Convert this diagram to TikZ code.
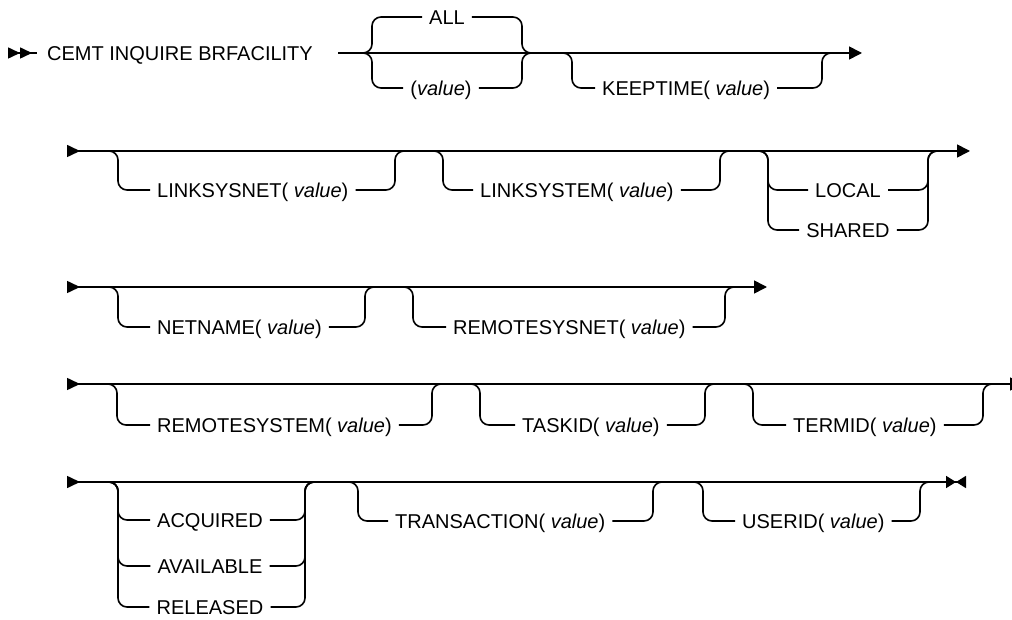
\documentclass[tikz,border=0pt]{standalone}
\usepackage{fontspec}
\setmainfont{Liberation Sans}
\usetikzlibrary{arrows.meta}
\tikzset{
  rail/.style={line width=1.6pt, rounded corners=9pt},
  lbl/.style={font=\fontsize{20pt}{24pt}\selectfont, inner xsep=7pt, inner ysep=0pt,
    text height=14.3pt, text depth=0pt},
  cmdlbl/.style={lbl, inner xsep=10pt, anchor=west},
  optlbl/.style={lbl, anchor=west},
  railin/.tip={Triangle[reversed,length=13pt,width=12pt]},
  railout/.tip={Triangle[length=13pt,width=13pt]},
  railfirst/.tip={Triangle[reversed,length=12pt,width=11pt,sep=0pt]},
  raillast/.tip={Triangle[length=10pt,width=12pt,sep=0pt]},
  raillastr/.tip={Triangle[reversed,length=10pt,width=12pt]}
}
\begin{document}
\begin{tikzpicture}[x=1pt,y=-1pt]
      \useasboundingbox (0,0) rectangle (1012,620);
      \clip (0,0) rectangle (1012,620);
      \path
        (8,53) coordinate (s1)
        (338,53) coordinate (c1)
        (862,53) coordinate (e1)
        (67,151) coordinate (s2)
        (970,151) coordinate (e2)
        (67,287) coordinate (s3)
        (767,287) coordinate (e3)
        (67,384) coordinate (s4)
        (1023,384) coordinate (e4)
        (67,482) coordinate (s5)
        (966,482) coordinate (e5);
      \path
        (372,53) coordinate (g1a) (522,53) coordinate (g1b)
        (572,53) coordinate (k1a) (822,53) coordinate (k1b)
        (118,151) coordinate (l2a) (395,151) coordinate (l2b)
        (443,151) coordinate (m2a) (720,151) coordinate (m2b)
        (768,151) coordinate (g2a) (928,151) coordinate (g2b)
        (118,287) coordinate (n3a) (365,287) coordinate (n3b)
        (413,287) coordinate (r3a) (725,287) coordinate (r3b)
        (117,384) coordinate (r4a) (432,384) coordinate (r4b)
        (480,384) coordinate (t4a) (705,384) coordinate (t4b)
        (753,384) coordinate (d4a) (983,384) coordinate (d4b)
        (118,482) coordinate (g5a) (305,482) coordinate (g5b)
        (358,482) coordinate (x5a) (653,482) coordinate (x5b)
        (703,482) coordinate (u5a) (920,482) coordinate (u5b);
      \path
        (37,53) node[cmdlbl] (cmd) {CEMT INQUIRE BRFACILITY}
        (447,17) node[lbl] (all) {ALL}
        (441,88) node[lbl] (val) {(\textit{value})}
        (595,88) node[optlbl] (kt) {KEEPTIME( \textit{value})}
        (150,190) node[optlbl] (lsn) {LINKSYSNET( \textit{value})}
        (473,190) node[optlbl] (lsy) {LINKSYSTEM( \textit{value})}
        (848,190) node[lbl] (loc) {LOCAL}
        (848,230) node[lbl] (shr) {SHARED}
        (150,327) node[optlbl] (net) {NETNAME( \textit{value})}
        (446,327) node[optlbl] (rsn) {REMOTESYSNET( \textit{value})}
        (150,425) node[optlbl] (rsy) {REMOTESYSTEM( \textit{value})}
        (515,425) node[optlbl] (tsk) {TASKID( \textit{value})}
        (786,425) node[optlbl] (trm) {TERMID( \textit{value})}
        (210,520) node[lbl] (acq) {ACQUIRED}
        (210,566) node[lbl] (ava) {AVAILABLE}
        (210,607) node[lbl] (rel) {RELEASED}
        (388,521) node[optlbl] (trn) {TRANSACTION( \textit{value})}
        (735,521) node[optlbl] (usr) {USERID( \textit{value})};
      % main lines
      \draw[rail,{railfirst[] railfirst[]}-] (s1) -- (cmd.west);
      \draw[rail,-railout] (c1) -- (e1);
      \draw[rail,railin-railout] (s2) -- (e2);
      \draw[rail,railin-railout] (s3) -- (e3);
      \draw[rail,railin-railout] (s4) -- (e4);
      \draw[rail,railin-{raillast[] raillastr[]}] (s5) -- (e5);
      % branches
      \begin{scope}[rail]
        \draw (all.west) -| (g1a) -- ++(-9,0);
        \draw (val.west) -| (g1a) -- ++(-9,0);
        \draw (all.east) -| (g1b) -- ++(9,0);
        \draw (val.east) -| (g1b) -- ++(9,0);
        \draw (kt.west) -| (k1a) -- ++(-9,0);
        \draw (kt.east) -| (k1b) -- ++(9,0);
        \draw (lsn.west) -| (l2a) -- ++(-9,0);
        \draw (lsn.east) -| (l2b) -- ++(9,0);
        \draw (lsy.west) -| (m2a) -- ++(-9,0);
        \draw (lsy.east) -| (m2b) -- ++(9,0);
        \draw (loc.west) -| (g2a) -- ++(-9,0);
        \draw (shr.west) -| (g2a) -- ++(-9,0);
        \draw (loc.east) -| (g2b) -- ++(9,0);
        \draw (shr.east) -| (g2b) -- ++(9,0);
        \draw (net.west) -| (n3a) -- ++(-9,0);
        \draw (net.east) -| (n3b) -- ++(9,0);
        \draw (rsn.west) -| (r3a) -- ++(-9,0);
        \draw (rsn.east) -| (r3b) -- ++(9,0);
        \draw (rsy.west) -| (r4a) -- ++(-9,0);
        \draw (rsy.east) -| (r4b) -- ++(9,0);
        \draw (tsk.west) -| (t4a) -- ++(-9,0);
        \draw (tsk.east) -| (t4b) -- ++(9,0);
        \draw (trm.west) -| (d4a) -- ++(-9,0);
        \draw (trm.east) -| (d4b) -- ++(9,0);
        \draw (acq.west) -| (g5a) -- ++(-9,0);
        \draw (ava.west) -| (g5a) -- ++(-9,0);
        \draw (rel.west) -| (g5a) -- ++(-9,0);
        \draw (acq.east) -| (g5b) -- ++(9,0);
        \draw (ava.east) -| (g5b) -- ++(9,0);
        \draw (rel.east) -| (g5b) -- ++(9,0);
        \draw (trn.west) -| (x5a) -- ++(-9,0);
        \draw (trn.east) -| (x5b) -- ++(9,0);
        \draw (usr.west) -| (u5a) -- ++(-9,0);
        \draw (usr.east) -| (u5b) -- ++(9,0);
      \end{scope}
    \end{tikzpicture}
\end{document}
